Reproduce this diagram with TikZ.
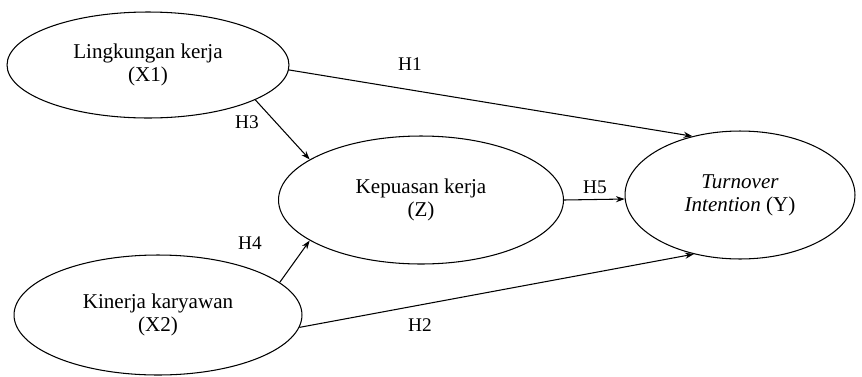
\documentclass[tikz,border=0pt]{standalone}
\usepackage{fontspec}
\setmainfont{Liberation Serif}
\usetikzlibrary{arrows.meta, shapes.geometric}
\tikzset{
  konstruk/.style 2 args={
    ellipse, draw=black, line width=0.6pt,
    minimum width=#1, minimum height=#2,
    align=center, font=\fontsize{12}{13}\selectfont,
    inner sep=0pt
  },
  jalur/.style={draw=black, line width=0.6pt, -{Stealth[length=5pt, width=3.5pt]}},
  hipo/.style={font=\fontsize{11}{12}\selectfont, inner sep=1pt}
}
\begin{document}
\begin{tikzpicture}[x=0.02cm, y=-0.02cm]
\useasboundingbox (0,0) rectangle (862,376);
% Variabel bebas
\node[konstruk={5.64cm}{2.12cm}] (x1) at (148,65) {Lingkungan kerja\\(X1)};
\node[konstruk={5.76cm}{2.4cm}] (x2) at (158,315) {Kinerja karyawan\\(X2)};
% Variabel mediasi
\node[konstruk={5.7cm}{2.56cm}] (z) at (421,200) {Kepuasan kerja\\(Z)};
% Variabel terikat
\node[konstruk={4.6cm}{2.56cm}] (y) at (740,195) {\textit{Turnover}\\\textit{Intention} (Y)};
% Jalur hipotesis
\draw[jalur] (x1.-2) -- (y.129);
\draw[jalur] (x1.-18) -- (z.160);
\draw[jalur] (x2.15) -- (z.200);
\draw[jalur] (z.east) -- (y.182);
\draw[jalur] (x2.-5) -- (y.232);
% Label hipotesis
\node[hipo] (h1) at (410,64) {H1};
\node[hipo] (h3) at (247,122) {H3};
\node[hipo] (h4) at (250,243) {H4};
\node[hipo] (h5) at (595,187) {H5};
\node[hipo] (h2) at (420,325) {H2};
\end{tikzpicture}
\end{document}
